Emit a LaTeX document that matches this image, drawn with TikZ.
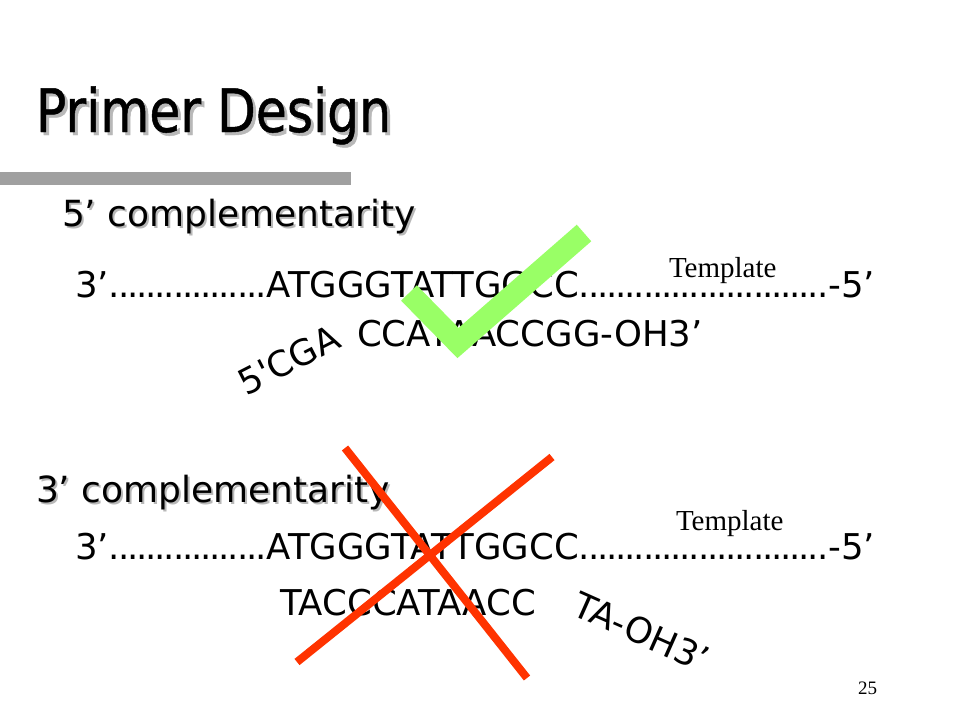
\documentclass[tikz,border=0pt]{standalone}
\usepackage{fontspec}
\setmainfont{DejaVu Sans}
\newfontfamily\titlefont[FakeStretch=0.84,FakeBold=0.8]{DejaVu Sans}
\newfontfamily\dotfont[LetterSpace=-6]{DejaVu Sans}
\newfontfamily\rawfont{DejaVu Sans}
\newfontfamily\tnr{Liberation Serif}
\definecolor{checkgreen}{HTML}{99FF66}
\definecolor{crossred}{HTML}{FF3300}
\definecolor{bargray}{HTML}{A0A0A0}
\definecolor{shadowgray}{HTML}{B8B8B8}
\tikzset{
  txt/.style={inner sep=0pt, outer sep=0pt, anchor=base west},
  titletxt/.style={txt, font=\titlefont\fontsize{60}{60}\selectfont},
  headtxt/.style={txt, font=\fontsize{36}{36}\selectfont},
  seqtxt/.style={txt, font=\fontsize{35.5}{36}\selectfont},
  tmpl/.style={txt, font=\tnr\fontsize{29}{29}\selectfont},
  shadow/.style={text=shadowgray},
  checkmark/.style={draw=checkgreen, line width=22pt, line join=miter, line cap=butt},
  crossline/.style={draw=crossred, line width=8pt},
}
\newcommand{\seqline}{3’{\dotfont .................}ATGGGTATTGGCC{\dotfont ...........................}-5’}
\begin{document}
\begin{tikzpicture}[x=1pt, y=1pt]
\useasboundingbox (0,0) rectangle (960,-720);
\fill[white] (0,0) rectangle (960,-720);
% title
\node[titletxt, shadow] (titlesh) at (39,-135) {Primer Design};
\node[titletxt] (title) at (36,-132) {Primer Design};
\fill[bargray] (0,-172) rectangle (351,-185);
% heading 1
\node[headtxt, shadow] (h1sh) at (64,-228) {5’ complementarity};
\node[headtxt] (h1) at (62,-226) {5’ complementarity};
% template 1
\node[tmpl] (tmpl1) at (669,-277) {Template};
\node[seqtxt] (seq1) at (75,-297) {\seqline};
\node[seqtxt] (prim1) at (357,-346) {CCATAACCGG-OH3’};
\node[seqtxt, font=\rawfont\fontsize{35.5}{36}\selectfont, rotate=27] (prim1b) at (246,-396) {5'CGA};
% check mark
\coordinate (ck1) at (409,-293);
\coordinate (ck2) at (458,-343);
\coordinate (ck3) at (584,-233);
\draw[checkmark] (ck1) -- (ck2) -- (ck3);
% heading 2
\node[headtxt, shadow] (h2sh) at (38,-504) {3’ complementarity};
\node[headtxt] (h2) at (36,-502) {3’ complementarity};
\node[tmpl] (tmpl2) at (676,-530) {Template};
\node[seqtxt] (seq2) at (75,-559) {\seqline};
\node[seqtxt] (prim2) at (280,-615) {TACCCATAACC};
\node[seqtxt, rotate=-24] (prim2b) at (570,-614) {TA-OH3’};
% cross
\coordinate (xa1) at (345,-448);
\coordinate (xa2) at (527,-678);
\coordinate (xb1) at (297,-662);
\coordinate (xb2) at (552,-457);
\draw[crossline] (xa1) -- (xa2);
\draw[crossline] (xb1) -- (xb2);
% page number
\node[txt, font=\tnr\fontsize{19}{19}\selectfont] (pagenum) at (858,-694) {25};
\end{tikzpicture}
\end{document}
